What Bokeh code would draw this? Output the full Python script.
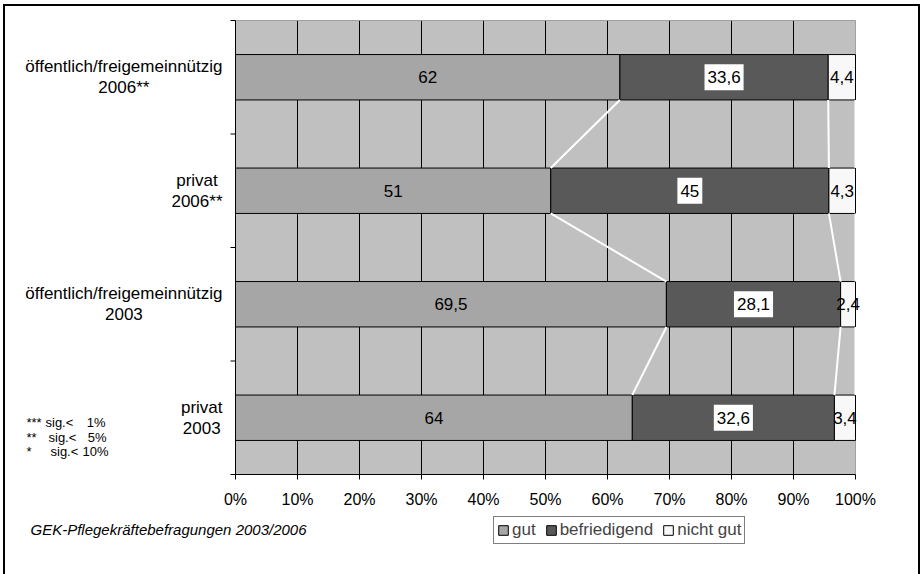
from bokeh.plotting import figure
from bokeh.models import ColumnDataSource, Range1d, Legend, LegendItem
from bokeh.core.properties import value
from bokeh.embed import file_html
from bokeh.resources import INLINE

# ---------------- data ----------------
categories = ["öffentlich/freigemeinnützig\n2006**", "privat\n2006**",
              "öffentlich/freigemeinnützig\n2003", "privat\n2003"]
gut = [62, 51, 69.5, 64]
befriedigend = [33.6, 45, 28.1, 32.6]
nicht_gut = [4.4, 4.3, 2.4, 3.4]
series_names = ["gut", "befriedigend", "nicht gut"]
series_colors = ["#A6A6A6", "#595959", "#F8F8F8"]
xtick_values = [0, 10, 20, 30, 40, 50, 60, 70, 80, 90, 100]
xtick_labels = ["0%", "10%", "20%", "30%", "40%", "50%", "60%", "70%", "80%", "90%", "100%"]
source_note = "GEK-Pflegekräftebefragungen 2003/2006"
sig_stars = ["***", "**", "*"]
sig_words = ["sig.<", "sig.<", "sig.<"]
sig_levels = ["1%", "5%", "10%"]

FONT = "Liberation Sans"
BAR_H = 0.4

# ---------------- derived (100% stacked) ----------------
n = len(categories)
ys = [n - i - 0.5 for i in range(n)]
tot = [g + b + c for g, b, c in zip(gut, befriedigend, nicht_gut)]
pg = [g / t * 100 for g, t in zip(gut, tot)]
pb = [b / t * 100 for b, t in zip(befriedigend, tot)]
pn = [c / t * 100 for c, t in zip(nicht_gut, tot)]
c1 = pg
c2 = [a + b for a, b in zip(pg, pb)]
c3 = [a + b for a, b in zip(c2, pn)]


def fmt(v):
    return f"{v:g}".replace(".", ",")


src = ColumnDataSource(dict(
    y=ys, z=[0] * n, c1=c1, c2=c2, c3=c3,
    m1=[a / 2 for a in c1],
    m2=[(a + b) / 2 for a, b in zip(c1, c2)],
    m3=[(a + b) / 2 for a, b in zip(c2, c3)],
    t1=[fmt(v) for v in gut],
    t2=[fmt(v) for v in befriedigend],
    t3=[fmt(v) for v in nicht_gut],
    cat=categories,
))

# ---------------- layout geometry (page pixels) ----------------
XMIN, XMAX = xtick_values[0], xtick_values[-1]
PA_L, PA_R, PA_T, PA_B = 235, 855, 20, 474          # plot area on page
PX_PER_X = (PA_R - PA_L) / (XMAX - XMIN)
PX_PER_Y = (PA_B - PA_T) / n


def X(px):
    return XMIN + (px - PA_L) / PX_PER_X


def Y(py):
    return (PA_B - py) / PX_PER_Y


CV_L, CV_T = 5, 6        # canvas origin on page (after css margin + border)
W, H = 917, 570

p = figure(width=W, height=H,
           x_range=Range1d(X(CV_L), X(CV_L + W)), y_range=Range1d(Y(CV_T + H), Y(CV_T)),
           x_axis_location=None, y_axis_location=None, min_border=0,
           output_backend="svg", toolbar_location=None)
p.styles = {"margin-left": "3px", "margin-top": "4px",
            "border-left": "2px solid black", "border-top": "2px solid black",
            "border-right": "2px solid black"}
p.outline_line_color = None
p.background_fill_color = "white"
p.border_fill_color = "white"
p.grid.visible = False

# plot area background
p.quad(left=[XMIN], right=[XMAX], bottom=[0], top=[n], fill_color="#C0C0C0", line_color=None)
# vertical gridlines
gx = xtick_values[1:-1]
p.segment(x0=gx, y0=[0] * len(gx), x1=gx, y1=[n] * len(gx), line_color="black", line_width=1)
# plot-area border (top / right)
p.segment(x0=[XMIN, XMAX], y0=[n, 0], x1=[XMAX, XMAX], y1=[n, n], line_color="#A0A0A0", line_width=1)

# bars
r1 = p.hbar(y="y", left="z", right="c1", height=BAR_H, source=src,
            fill_color=series_colors[0], line_color="black", line_width=1)
r2 = p.hbar(y="y", left="c1", right="c2", height=BAR_H, source=src,
            fill_color=series_colors[1], line_color="black", line_width=1)
r3 = p.hbar(y="y", left="c2", right="c3", height=BAR_H, source=src,
            fill_color=series_colors[2], line_color="black", line_width=1)

# series lines
sx0, sy0, sx1, sy1 = [], [], [], []
for i in range(n - 1):
    for c in (c1, c2, c3):
        sx0.append(c[i]); sy0.append(ys[i] - BAR_H / 2)
        sx1.append(c[i + 1]); sy1.append(ys[i + 1] + BAR_H / 2)
p.segment(x0=sx0, y0=sy0, x1=sx1, y1=sy1, line_color="white", line_width=2)

# axes lines and ticks
p.segment(x0=[XMIN, XMIN], y0=[0, 0], x1=[XMAX, XMIN], y1=[0, n], line_color="black", line_width=1)
tick_len_y = 5 / PX_PER_Y
tick_len_x = 5 / PX_PER_X
p.segment(x0=xtick_values, y0=[0] * len(xtick_values), x1=xtick_values,
          y1=[-tick_len_y] * len(xtick_values), line_color="black", line_width=1)
yt = list(range(n + 1))
p.segment(x0=[XMIN] * len(yt), y0=yt, x1=[XMIN - tick_len_x] * len(yt), y1=yt,
          line_color="black", line_width=1)
p.text(x=xtick_values, y=[Y(499)] * len(xtick_values), text=xtick_labels,
       text_font=value(FONT), text_font_size="16px", text_align="center",
       text_baseline="middle", text_color="black")

# value labels
common = dict(y="y", source=src, text_font=value(FONT), text_font_size="17px",
              text_align="center", text_baseline="middle", text_color="black")
p.text(x="m1", text="t1", **common)
p.text(x="m2", text="t2", background_fill_color="white",
       padding=dict(left=3, right=3, top=7, bottom=7), **common)
p.text(x="m3", text="t3", **common)

# category labels
p.text(x=X(222), y="y", text="cat", source=src, anchor=value("center_right"),
       text_align="center", text_baseline="middle", text_line_height=1.12,
       text_font=value(FONT), text_font_size="17px", text_color="black")

# significance note
sig_y = [Y(422), Y(436.5), Y(451)]
p.text(x=[X(26)] * 3, y=sig_y, text=sig_stars, text_align="left", text_baseline="middle",
       text_font=value(FONT), text_font_size="13px", text_color="black")
p.text(x=[X(45), X(48), X(50)], y=sig_y, text=sig_words, text_align="left",
       text_baseline="middle", text_font=value(FONT), text_font_size="13px", text_color="black")
p.text(x=[X(105), X(106), X(108)], y=sig_y, text=sig_levels, text_align="right",
       text_baseline="middle", text_font=value(FONT), text_font_size="13px", text_color="black")

# source note
p.text(x=[X(30)], y=[Y(529)], text=[source_note], text_align="left", text_baseline="middle",
       text_font=value(FONT), text_font_size="15px", text_font_style="italic",
       text_color="black")

# legend (location relative to frame bottom-left = canvas bottom-left)
legend = Legend(items=[LegendItem(label=nm, renderers=[r]) for nm, r in
                       zip(series_names, [r1, r2, r3])],
                orientation="horizontal", location=(493 - CV_L, CV_T + H - 544),
                border_line_color="black", border_line_width=1,
                background_fill_color="white", background_fill_alpha=1,
                padding=3, spacing=9, margin=0, label_standoff=3,
                glyph_width=12, glyph_height=12, label_height=19,
                label_text_font=FONT, label_text_font_size="17px")
p.add_layout(legend)

open("out.html", "w").write(file_html(p, INLINE))
